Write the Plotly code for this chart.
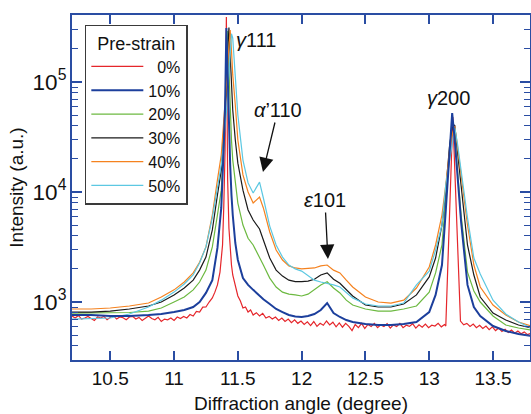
import plotly.graph_objects as go

# ---------------- data ----------------
two_theta = [10.20, 10.35, 10.50, 10.65, 10.80, 10.90, 11.00, 11.08, 11.15, 11.20,
             11.25, 11.30, 11.34, 11.37, 11.39, 11.40, 11.41, 11.42, 11.43, 11.44,
             11.45, 11.46, 11.48, 11.50, 11.54, 11.58, 11.62, 11.67, 11.70, 11.75,
             11.80, 11.85, 11.90, 11.95, 12.00, 12.05, 12.10, 12.15, 12.20, 12.25,
             12.30, 12.35, 12.40, 12.50, 12.60, 12.70, 12.80, 12.90, 13.00, 13.05,
             13.10, 13.13, 13.16, 13.18, 13.20, 13.22, 13.25, 13.30, 13.35, 13.40,
             13.50, 13.60, 13.70, 13.80]

strain_10 = [762, 762, 746, 746, 762, 778, 811, 846, 901, 1000,
             1210, 1580, 3100, 7160, 26700, 61800, 310000, 104000, 36600, 17600,
             9390, 6180, 3440, 2410, 1650, 1430, 1290, 1135, 1060, 960,
             865, 811, 762, 738, 731, 746, 778, 846, 979, 794,
             731, 686, 658, 631, 618, 618, 631, 658, 811, 1160,
             2170, 6860, 24100, 52200, 29700, 14300, 5340, 1430, 901, 746,
             605, 545, 512, 491]

strain_20 = [794, 794, 794, 803, 828, 882, 1000, 1110, 1290, 1520,
             1950, 3170, 6180, 10400, 26700, 45200, 104000, 290000, 128000, 55600,
             29700, 19500, 11600, 7940, 5010, 3800, 3300, 2590, 2170, 1650,
             1370, 1230, 1180, 1160, 1135, 1180, 1290, 1430, 1530, 1340,
             1210, 1040, 939, 864, 828, 828, 864, 920, 1230, 1840,
             3300, 9390, 24100, 45200, 33000, 17600, 6180, 1870, 1260, 1000,
             746, 618, 581, 556]

strain_30 = [811, 811, 828, 864, 920, 1000, 1160, 1340, 1580, 1950,
             2560, 4520, 9390, 15800, 36600, 55600, 93900, 176000, 313000, 176000,
             93900, 55600, 29700, 18300, 10400, 6860, 5560, 4610, 3660, 2510,
             1950, 1720, 1580, 1530, 1530, 1550, 1610, 1760, 1840, 1610,
             1480, 1290, 1135, 939, 901, 901, 960, 1160, 1690, 2510,
             5010, 10400, 26700, 38200, 40700, 24100, 11600, 3300, 1760, 1110,
             794, 686, 618, 581]

strain_40 = [864, 864, 882, 920, 979, 1110, 1290, 1520, 1840, 2300,
             3170, 6180, 12900, 21700, 45200, 61800, 93900, 143000, 217000, 297000,
             195000, 116000, 61800, 29700, 14300, 10000, 7940, 9000, 7160, 4330,
             2970, 2410, 2130, 2040, 2000, 2020, 2040, 2130, 2170, 1950,
             1840, 1580, 1370, 1110, 1000, 979, 1040, 1340, 2080, 3300,
             6180, 11600, 24100, 33000, 39800, 26700, 14300, 5010, 2170, 1370,
             939, 762, 658, 605]

strain_50 = [700, 708, 716, 778, 901, 1040, 1230, 1460, 1760, 2260,
             3170, 5810, 11600, 17600, 29700, 38200, 53300, 76200, 116000, 176000,
             275000, 250000, 104000, 50100, 19500, 12100, 9800, 12300, 8820, 4900,
             3300, 2560, 2170, 2000, 1910, 1720, 1580, 1520, 1480, 1430,
             1370, 1230, 1090, 960, 920, 920, 979, 1430, 1910, 2970,
             5010, 11600, 19500, 28500, 38200, 28500, 15800, 5810, 2510, 1800,
             1040, 778, 658, 581]

# 0 % (noisy, sharp peaks) has its own sampling
two_theta_0 = [10.20, 10.225, 10.25, 10.275, 10.30, 10.325, 10.35, 10.375, 10.40, 10.425,
               10.45, 10.475, 10.50, 10.525, 10.55, 10.575, 10.60, 10.625, 10.65, 10.675,
               10.70, 10.725, 10.75, 10.775, 10.80, 10.825, 10.85, 10.875, 10.90, 10.925,
               10.95, 10.975, 11.00, 11.025, 11.05, 11.075, 11.10, 11.125, 11.15, 11.175,
               11.20, 11.225, 11.25, 11.275, 11.30, 11.32, 11.34, 11.36, 11.38, 11.39,
               11.40, 11.41, 11.42, 11.43, 11.44, 11.45, 11.46, 11.48, 11.50, 11.52,
               11.54, 11.56, 11.58, 11.60, 11.62, 11.645, 11.67, 11.695, 11.72, 11.745,
               11.77, 11.795, 11.82, 11.845, 11.87, 11.895, 11.92, 11.945, 11.97, 11.995,
               12.02, 12.045, 12.07, 12.095, 12.12, 12.145, 12.17, 12.195, 12.22, 12.245,
               12.27, 12.295, 12.32, 12.345, 12.37, 12.395, 12.42, 12.445, 12.47, 12.495,
               12.52, 12.545, 12.57, 12.595, 12.62, 12.645, 12.67, 12.695, 12.72, 12.745,
               12.77, 12.795, 12.82, 12.845, 12.87, 12.895, 12.92, 12.945, 12.97, 12.995,
               13.02, 13.045, 13.07, 13.095, 13.12, 13.13, 13.185, 13.245, 13.27, 13.295,
               13.32, 13.345, 13.37, 13.395, 13.42, 13.445, 13.47, 13.495, 13.52, 13.545,
               13.57, 13.595, 13.62, 13.645, 13.67, 13.695, 13.72, 13.745, 13.77, 13.80]

strain_0 = [746, 716, 755, 700, 716, 740, 708, 680, 731, 716,
            740, 690, 725, 750, 700, 731, 720, 690, 731, 740,
            700, 725, 680, 716, 746, 708, 690, 725, 665, 700,
            690, 716, 680, 731, 708, 740, 716, 770, 746, 820,
            811, 900, 901, 1000, 1090, 1230, 1430, 1870, 3300, 7620,
            24100, 390000, 12900, 4710, 2850, 2170, 1760, 1430, 1135, 1020,
            882, 901, 811, 846, 762, 800, 746, 790, 716, 740,
            700, 731, 680, 716, 665, 700, 650, 690, 640, 672,
            625, 660, 610, 665, 600, 640, 615, 672, 620, 655,
            595, 645, 590, 640, 600, 550, 625, 585, 640, 575,
            625, 600, 640, 585, 620, 600, 635, 580, 620, 598,
            640, 585, 615, 600, 635, 580, 620, 590, 630, 585,
            615, 605, 640, 595, 625, 605, 48100, 672, 620, 640,
            600, 630, 585, 615, 575, 605, 560, 595, 550, 580,
            540, 565, 530, 555, 520, 545, 515, 535, 505, 522]

labels = ["0%", "10%", "20%", "30%", "40%", "50%"]
colors = ["#e5262b", "#1c3f9c", "#6cb940", "#1a1a1a", "#f5821f", "#5cc8e2"]

x_ticks = [10.5, 11, 11.5, 12, 12.5, 13, 13.5]

AX = "#2a4da3"
FONT = "Liberation Sans, Arial, Helvetica, sans-serif"

fig = go.Figure()

series = [
    (two_theta_0, strain_0, 0),
    (two_theta, strain_20, 2),
    (two_theta, strain_30, 3),
    (two_theta, strain_40, 4),
    (two_theta, strain_50, 5),
    (two_theta, strain_10, 1),
]
for xs, ys, i in series:
    name = labels[i] if len(labels[i]) == 3 else "\u2007" + labels[i]
    fig.add_trace(go.Scatter(
        x=xs, y=ys, mode="lines", name=name,
        line=dict(color=colors[i], width=2 if i == 1 else 1.2),
        legendrank=i + 1,
    ))

fig.update_layout(
    width=531, height=414,
    margin=dict(l=72, r=1, t=15, b=54, autoexpand=False),
    paper_bgcolor="white", plot_bgcolor="white",
    font=dict(family=FONT, size=19, color="#111"),
    showlegend=True,
    legend=dict(
        x=0.028, y=0.972, xanchor="left", yanchor="top",
        bgcolor="white", bordercolor="#3a3a3a", borderwidth=1.5,
        font=dict(size=16, family=FONT, color="#111"),
        title=dict(text="Pre-strain", font=dict(size=18, family=FONT, color="#111"), side="top center"),
        tracegroupgap=0, itemwidth=52,
    ),
)

fig.update_xaxes(
    range=[10.2, 13.79], tickvals=x_ticks, automargin=False,
    ticks="inside", ticklen=9, tickwidth=1.5, tickcolor=AX,
    showline=True, linecolor=AX, linewidth=2, mirror="ticks",
    showgrid=False, zeroline=False,
    tickfont=dict(size=19, family=FONT, color="#111"),
    title=dict(text="Diffraction angle (degree)", font=dict(size=19, family=FONT, color="#111"), standoff=9),
)
fig.update_yaxes(
    type="log", range=[2.473, 5.609], dtick=1, automargin=False,
    exponentformat="power", showexponent="all",
    ticks="inside", ticklen=10, tickwidth=1.5, tickcolor=AX,
    showline=True, linecolor=AX, linewidth=2, mirror="ticks",
    minor=dict(ticks="inside", ticklen=6, tickwidth=1.2, tickcolor=AX, dtick="D1", showgrid=False),
    showgrid=False, zeroline=False,
    tickfont=dict(size=18, family=FONT, color="#111"),
    title=dict(text="Intensity (a.u.)", font=dict(size=19, family=FONT, color="#111"), standoff=4),
)

# peak labels
fig.add_annotation(x=11.642, y=5.382, text="<i>γ</i>111", showarrow=False,
                   font=dict(size=20, family=FONT, color="#111"))
fig.add_annotation(x=13.154, y=4.855, text="<i>γ</i>200", showarrow=False,
                   font=dict(size=20, family=FONT, color="#111"))
fig.add_annotation(x=11.697, y=4.182, ax=15, ay=-62, text="<i>α</i>’110", showarrow=True,
                   arrowhead=2, arrowsize=2.2, arrowwidth=1.3, arrowcolor="#111", standoff=0,
                   font=dict(size=20, family=FONT, color="#111"))
fig.add_annotation(x=12.206, y=3.391, ax=-3, ay=-59, text="<i>ε</i>101", showarrow=True,
                   arrowhead=2, arrowsize=2.2, arrowwidth=1.3, arrowcolor="#111", standoff=0,
                   font=dict(size=20, family=FONT, color="#111"))

fig.write_html("out.html", config={"displayModeBar": False},
               post_script="document.body.style.margin='0';document.body.style.overflow='hidden';")
